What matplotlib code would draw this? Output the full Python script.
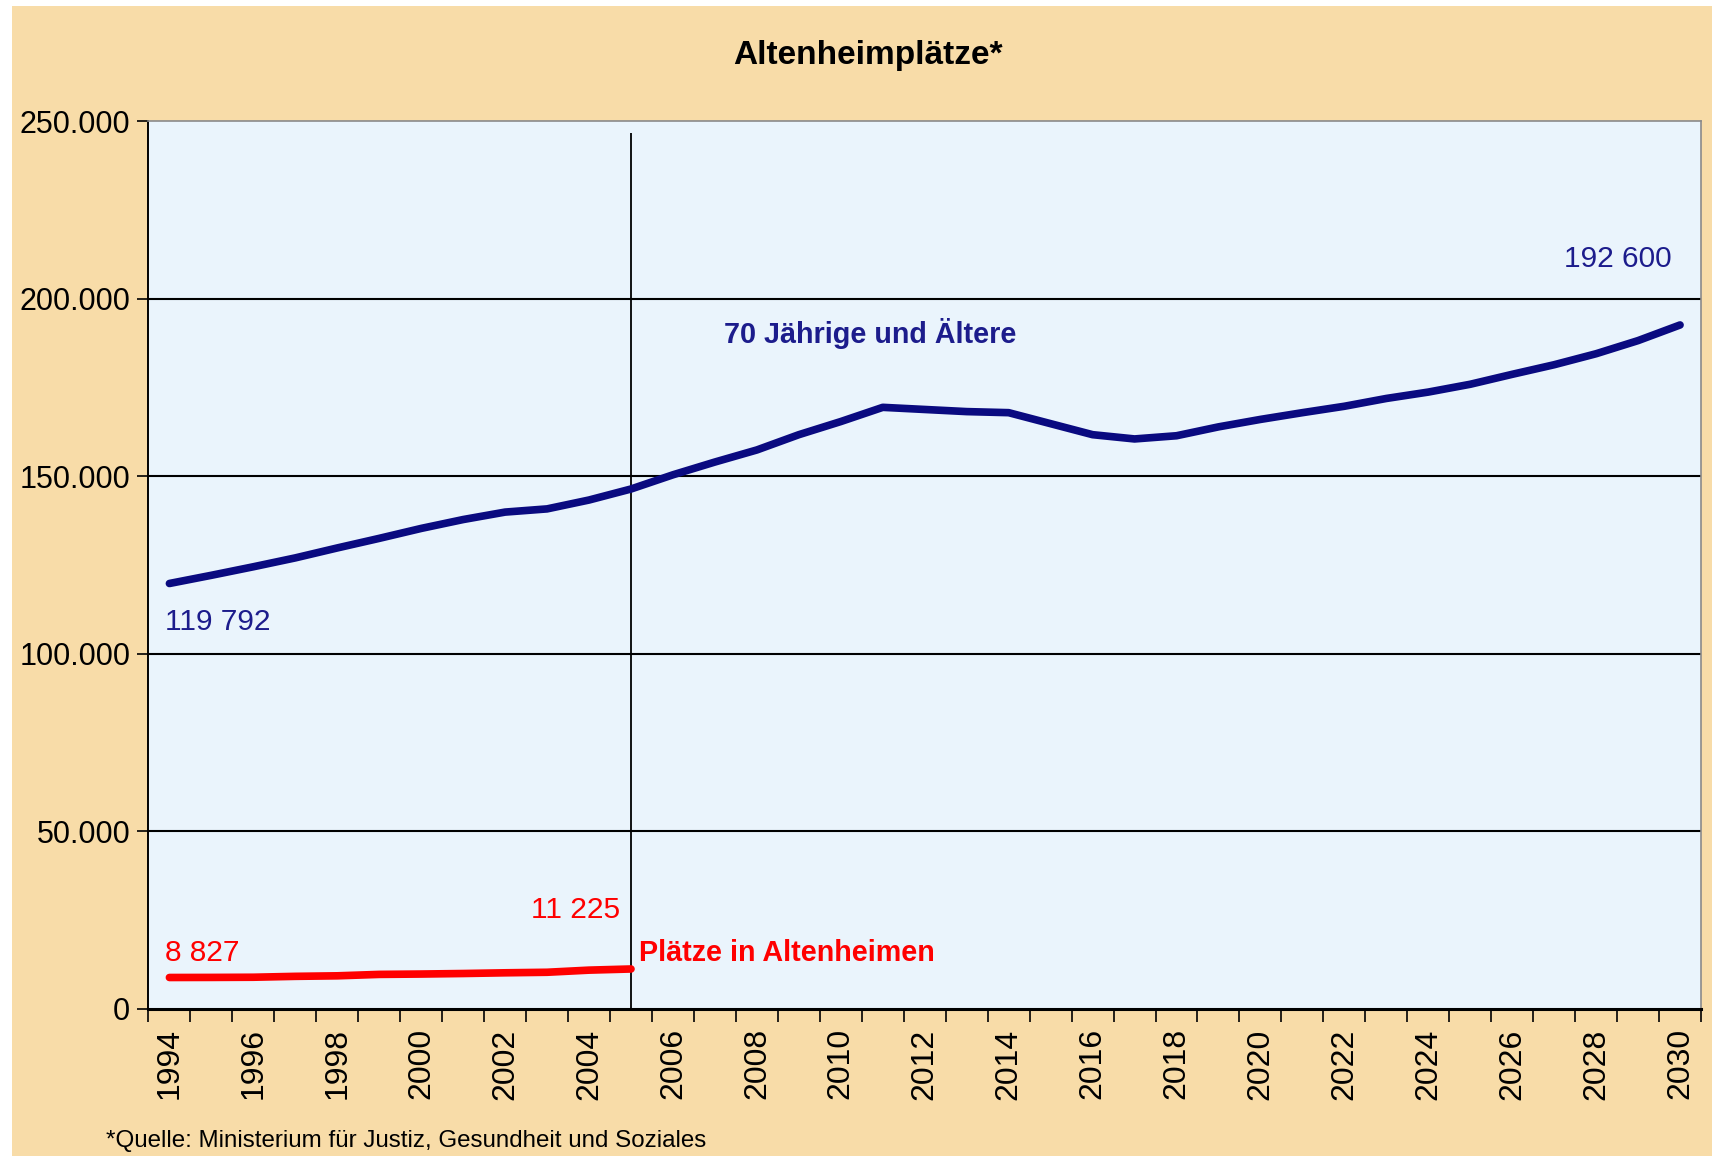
import matplotlib
matplotlib.use("Agg")
import matplotlib.pyplot as plt
import matplotlib.patches as mpatches
from matplotlib import font_manager
from matplotlib.ticker import FuncFormatter, MultipleLocator

# data
years = list(range(1994, 2031))
elderly_70_plus = [
    119792, 122100, 124500, 127000, 129800, 132500, 135300, 137800, 139900, 140800,
    143300, 146400, 150400, 154000, 157400, 161700, 165400, 169400, 168800, 168200,
    167900, 164800, 161700, 160500, 161400, 163900, 166000, 167900, 169700, 171900,
    173700, 175900, 178700, 181400, 184500, 188200, 192600,
]
home_years = list(range(1994, 2006))
home_places = [8827, 8850, 8900, 9150, 9300, 9700, 9800, 9950, 10150, 10300, 10900, 11225]
year_labels = [str(y) for y in range(1994, 2031, 2)]

BEIGE = "#F8DCA8"
PLOT_BG = "#EAF4FC"
NAVY = "#0A0A80"
LABEL_NAVY = "#1C1C8C"
RED = "#FF0000"

names = {f.name for f in font_manager.fontManager.ttflist}
NARROW = "Liberation Sans Narrow" if "Liberation Sans Narrow" in names else "Liberation Sans"
plt.rcParams["font.family"] = [NARROW, "DejaVu Sans"]


def thousands(v, _pos):
    if v == 0:
        return "0"
    return f"{int(v):,}".replace(",", ".")


fig = plt.figure(figsize=(17.12, 11.56), dpi=100, facecolor="white")
fig.patches.append(mpatches.Rectangle((12 / 1712, 0), 1, 1 - 6 / 1156,
                                      transform=fig.transFigure, facecolor=BEIGE,
                                      edgecolor="none", zorder=-10))

ax = fig.add_axes([0.0867, 0.1273, 0.9069, 0.7679])
ax.set_facecolor(PLOT_BG)
ax.set_xlim(1993.5, 2030.5)
ax.set_ylim(0, 250000)

for v in range(50000, 250000, 50000):
    ax.axhline(v, color="black", linewidth=1.5, zorder=1)
ax.vlines(2005, 0, 246800, color="black", linewidth=1.3, zorder=2)

ax.plot(years, elderly_70_plus, color=NAVY, linewidth=5.5,
        solid_capstyle="round", solid_joinstyle="round", zorder=3)
ax.plot(home_years, home_places, color=RED, linewidth=5.5,
        solid_capstyle="round", solid_joinstyle="round", zorder=3)

ax.yaxis.set_major_locator(MultipleLocator(50000))
ax.yaxis.set_major_formatter(FuncFormatter(thousands))
ax.set_xticks([y + 0.5 for y in range(1993, 2031)])
ax.set_xticklabels([])
ax.set_xticks(list(range(1994, 2031, 2)), minor=True)
ax.set_xticklabels(year_labels, minor=True, rotation=90, fontsize=23,
                   family=["Liberation Sans", "DejaVu Sans"])
ax.tick_params(axis="x", which="major", direction="out", length=9, width=1.2)
ax.tick_params(axis="x", which="minor", length=0, pad=14)
ax.tick_params(axis="y", direction="out", length=8, width=1.2, labelsize=22, pad=5)

for side in ("top", "right"):
    ax.spines[side].set_color("#8A8A8A")
    ax.spines[side].set_linewidth(1.2)
ax.spines["left"].set_linewidth(1.4)
ax.spines["bottom"].set_linewidth(2.2)

ax.text(1993.9, 108900, "119 792", color=LABEL_NAVY, fontsize=21.5, ha="left", va="center")
ax.text(2029.8, 211300, "192 600", color=LABEL_NAVY, fontsize=21.5, ha="right", va="center")
ax.text(2010.7, 190300, "70 Jährige und Ältere", color=LABEL_NAVY, fontsize=20.7,
        fontweight="bold", ha="center", va="center")
ax.text(1993.9, 15700, "8 827", color=RED, fontsize=21.5, ha="left", va="center")
ax.text(2004.74, 27700, "11 225", color=RED, fontsize=21.5, ha="right", va="center")
ax.text(2005.18, 15700, "Plätze in Altenheimen", color=RED, fontsize=20.7,
        fontweight="bold", ha="left", va="center")

fig.text(0.507, 0.952, "Altenheimplätze*", fontsize=24, fontweight="bold",
         ha="center", va="center")
fig.text(106 / 1712, 4 / 1156, "*Quelle: Ministerium für Justiz, Gesundheit und Soziales",
         fontsize=17.4, ha="left", va="bottom")

fig.savefig("out.png", dpi=100, facecolor=fig.get_facecolor())
